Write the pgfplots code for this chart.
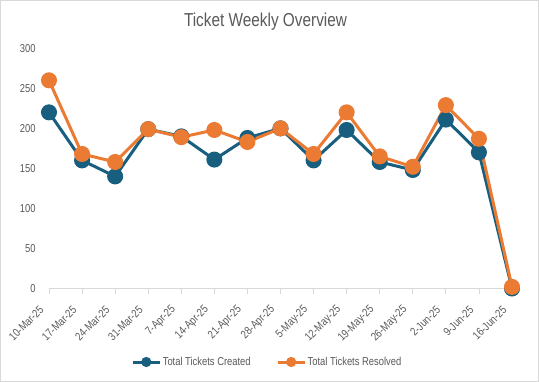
\documentclass[border=0pt]{standalone}
\usepackage{fontspec}
\setmainfont{Liberation Sans}[FakeStretch=0.82]
\usepackage{pgfplots}
\pgfplotsset{compat=1.18}
\definecolor{cblue}{RGB}{23,94,127}
\definecolor{corange}{RGB}{235,122,50}
\definecolor{tgray}{RGB}{89,89,89}
\definecolor{lgray}{RGB}{217,217,217}
\begin{document}
\begin{tikzpicture}
\path[use as bounding box] (-49bp,-93.5bp) rectangle ++(539bp,382bp);
\draw[lgray, line width=0.8bp] (-48.6bp,-93.1bp) rectangle ++(538.2bp,381.2bp);
\begin{axis}[
 scale only axis, width=463bp, height=240.2bp,
 xmin=0, xmax=14, ymin=0, ymax=300,
 axis x line*=bottom, axis y line*=left,
 y axis line style={draw=none},
 x axis line style={lgray, line width=0.8bp},
 ytick={0,50,...,300}, ytick style={draw=none},
 xtick={0,...,14},
 xticklabels={10-Mar-25,17-Mar-25,24-Mar-25,31-Mar-25,7-Apr-25,14-Apr-25,21-Apr-25,28-Apr-25,5-May-25,12-May-25,19-May-25,26-May-25,2-Jun-25,9-Jun-25,16-Jun-25},
 xtick style={lgray, line width=0.8bp}, tick align=outside, major tick length=5bp,
 xticklabel style={xshift=-5bp, yshift=-12bp, rotate=45, anchor=east, font=\fontsize{11.5}{13}\selectfont, text=tgray},
 yticklabel style={xshift=-5bp, font=\fontsize{11.5}{13}\selectfont, text=tgray},
 /pgf/number format/assume math mode=true,
 clip=false,
 legend style={at={(0.471,-0.306)}, anchor=center, draw=none, font=\fontsize{11.5}{13}\selectfont, text=tgray, legend columns=2, /tikz/every even column/.append style={column sep=24bp}, nodes={inner sep=1.5bp}},
 legend image code/.code={\draw[#1, mark size=3.5bp, mark repeat=2, mark phase=2] plot coordinates {(0bp,0bp) (13.5bp,0bp) (27bp,0bp)};},
]
\addplot[cblue, line width=3bp, mark=*, mark size=6.5bp, mark options={solid, fill=cblue, draw=cblue}] coordinates {
(0,220) (1,160) (2,140) (3,199) (4,190) (5,161) (6,188) (7,200) (8,160) (9,198) (10,158) (11,148) (12,211) (13,170) (14,0)};
\addlegendentry{Total Tickets Created}
\addplot[corange, line width=3bp, mark=*, mark size=6.5bp, mark options={solid, fill=corange, draw=corange}] coordinates {
(0,260) (1,168) (2,158) (3,199) (4,189) (5,198) (6,183) (7,200) (8,168) (9,220) (10,165) (11,152) (12,229) (13,187) (14,2)};
\addlegendentry{Total Tickets Resolved}
\end{axis}
\node[font=\fontsize{18.8}{22}\selectfont, text=tgray] at (216.5bp,266.5bp) {Ticket Weekly Overview};
\end{tikzpicture}
\end{document}
